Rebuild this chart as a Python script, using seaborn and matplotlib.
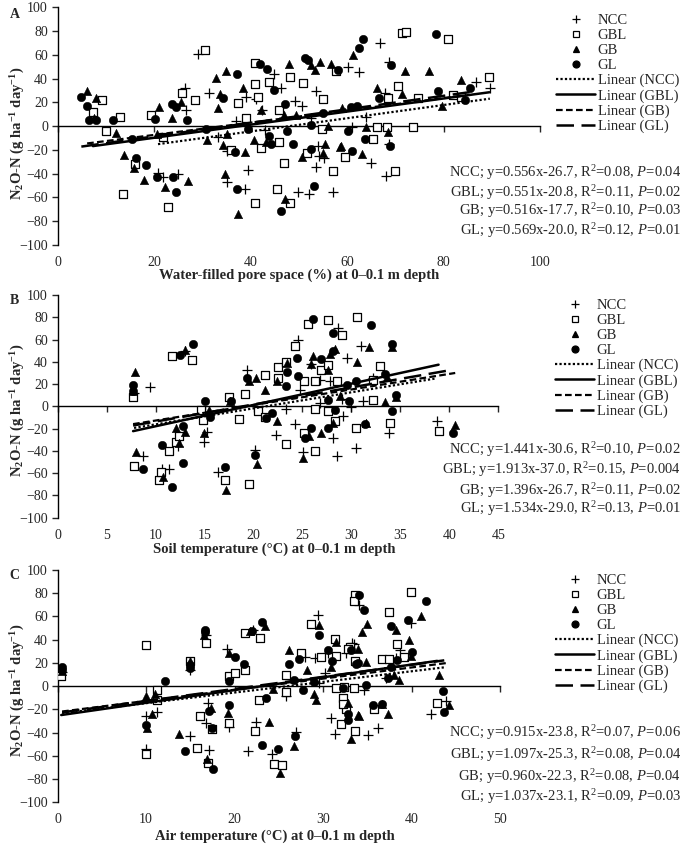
import numpy as np
import seaborn as sns
import matplotlib.pyplot as plt
from matplotlib.lines import Line2D

treatments = ["NCC", "GBL", "GB", "GL"]

# A: water-filled pore space (%)
wfps_ncc_x = [29.1, 26.3, 31.3, 26.5, 33.3, 35.0, 36.9, 39.0, 41.2, 38.8, 39.5, 42.4, 43.0, 44.8, 46.4, 49.2, 50.6,
              49.9, 52.1, 53.5, 54.0, 54.2, 55.3, 57.1, 52.5, 61.0, 60.2, 62.5, 20.8, 21.9, 25.0, 35.0, 53.5, 66.8,
              68.7, 67.8, 64.0, 65.0, 68.7, 68.0, 86.8, 89.6]
wfps_ncc_y = [60.6, 32.5, 27.5, 13.5, -9, -47, 4.5, 24.7, 22.7, -53, -36.5, 14, -3.4, 43.8, 32.5, 21.3, 16.8,
              -55, -57, -34, -16.8, -25, -26.6, -55, 6.5, -0.6, 50, 45.7, -39, -42.6, -40, -21, 29.2, 70,
              54, 27.5, 7.3, -31, -15, -42, 37, 31.7]
wfps_gbl_x = [30.5, 40.9, 7.3, 9.2, 10.1, 12.9, 13.6, 16.0, 19.4, 21.9, 22.9, 25.8, 28.4, 36.0, 37.3, 39.1, 40.9,
              40.9, 41.6, 42.2, 43.8, 45.4, 45.9, 45.9, 48.1, 46.9, 48.1, 50.9, 51.6, 55.0, 54.7, 57.1, 57.8, 59.5,
              71.3, 72.3, 80.9, 89.5, 70.6, 68.5, 74.7, 82.0, 83.7, 66.1, 68.2, 73.7, 65.3, 69.9]
wfps_gbl_y = [64, 53.3, 12, 21.9, -4, 7.3, -57.5, -32, 9.3, -9.5, -68, 27.5, 21.9, -20, 19.6, 6.5, 35.3,
              -65, 24.7, -18.8, 37.3, -53.3, -13.2, 14, 41.5, -30.6, -65, 36.5, -22.4, 23, -2.8, -37.6, 46.3, -25.8,
              78, 79.4, 73, 41, 33.7, 24, 24, 26, 24.7, -0.6, -0.6, -0.6, -11, -37.6]
wfps_gb_x = [6.1, 7.9, 7.5, 12.0, 13.7, 15.8, 17.8, 21.0, 20.5, 22.2, 23.6, 27.0, 25.6, 31.0, 32.9, 33.3, 34.9,
             33.6, 34.6, 34.3, 35.0, 37.4, 38.4, 38.8, 40.7, 42.2, 43.2, 46.9, 47.1, 48.0, 49.5, 50.6, 52.6, 53.3,
             55.0, 55.4, 56.1, 54.4, 56.6, 58.5, 58.9, 61.2, 66.1, 71.3, 72.0, 77.0, 79.6, 83.7, 64.0, 68.5, 58.8,
             63.0]
wfps_gb_y = [29.5, 24, 6.5, -6, -24.5, -35.6, -45.4, 15.7, -6.7, -51.6, 6.5, -46, 20.5, -11.8, 40.7, 14.9, 46.6,
             27, -40.4, -16, -6.2, -73.5, 31.7, -21.6, -11.8, 14, -13.2, 9.3, -61.7, 52.7, 9.3, -25.8, 51.3, 47,
             -23, -14.6, 0, 54, 52.7, -17.4, 14.9, 59.7, 31.7, 27, 46.6, 46.6, 16.8, 38.7, -1, -4.8, -16.8,
             -23.6]
wfps_gl_x = [4.9, 6.1, 6.5, 8.0, 11.5, 16.3, 18.4, 15.5, 20.1, 20.5, 23.6, 24.5, 24.6, 23.9, 26.8, 30.8, 34.3,
             37.2, 36.7, 37.2, 39.5, 41.9, 43.3, 43.8, 44.3, 44.8, 47.1, 47.6, 46.4, 48.8, 51.2, 51.9, 52.6, 53.1,
             52.6, 55.0, 58.2, 60.1, 60.9, 61.0, 62.5, 63.3, 69.2, 78.4, 66.6, 78.9, 85.4, 84.4, 62.0, 63.7, 68.8]
wfps_gl_y = [24.7, 16.8, 5, 5, 5, -27, -32.8, -11.2, 5.6, -42.6, 18.5, 15.7, -55.8, -43, 5, -2.8, 24,
             43.8, -21.6, -52.5, -2.8, 52.7, 48.5, -8.4, -15, 30.3, 18.5, -4, -71, -15, 57, 55.5, -19.6, -50,
             0.8, 10.7, 47.5, -4.4, 16.5, -21.2, 65.4, 73, 51.3, 77.4, 23.3, 29.7, 31.7, 21.9, 16.8, -10.4, -16.8]

# B: soil temperature (°C)
soil_ncc_x = [7.8, 9.4, 8.7, 10.7, 11.4, 12.3, 14.9, 15.2, 13.0, 16.4, 19.3, 20.1, 22.3, 23.3, 24.5, 24.2, 25.1,
              24.7, 25.9, 26.8, 26.8, 27.8, 28.5, 28.1, 29.1, 28.6, 29.5, 30.0, 30.5, 31.0, 32.2, 29.0, 31.2,
              33.8, 38.7]
soil_ncc_y = [12, 17.2, -44.3, -56.3, -56.3, -36, -31.6, -22.6, 49.7, -58.7, 32.2, -39.2, -25.6, -2.4, 59.3, -16,
              -40.7, 15, 37.7, 3, 24, 23.2, -44.3, -28, -9, 70.8, 43, -1, -37.6, 54, 25.6, 7, 4.5, -24, -13.6]
soil_gbl_x = [7.7, 7.8, 10.3, 10.6, 11.4, 11.7, 12.1, 12.4, 13.7, 14.6, 14.8, 17.5, 17.1, 18.5, 19.1, 19.5, 20.5,
              21.2, 21.2, 22.5, 22.5, 23.3, 23.3, 24.2, 25.2, 25.2, 25.6, 26.3, 26.3, 26.3, 27.6, 26.9, 27.6, 27.6,
              28.3, 28.5, 29.0, 30.6, 30.5, 32.9, 32.2, 32.2, 33.9, 38.9]
soil_gbl_y = [8.1, -53.3, -66.3, -59.3, -40, 45.2, -31.6, -27, 41.6, -3, -12, 8.1, -66.3, -11.1, 11.1, -69.3, -4.5,
              28.6, -10, 35.2, 25.6, -34, 39.8, 54.2, 22.6, -24, 73.8, 23.2, -2.4, -40, 77.4, 33, 36.7, -4.5,
              -13.6, 22.6, 64.2, 80.4, -19.6, 36, 23.8, 6, -15, -22]
soil_gb_x = [7.9, 7.7, 8.0, 10.8, 12.1, 12.4, 13.0, 13.0, 14.9, 15.5, 17.2, 17.6, 19.5, 20.3, 20.4, 21.2, 22.4,
             22.4, 23.4, 25.1, 25.7, 25.9, 27.6, 27.8, 28.3, 26.9, 28.1, 28.8, 30.6, 31.8, 34.1, 33.6, 33.4, 34.6,
             31.5, 40.6, 26.1]
soil_gb_y = [31, 14.2, -41.3, -63.3, -19.6, -33, 51, -23.2, -24, -3, -75.3, 4.5, 23.2, 25.6, -52.1, 15, 22.6,
             -13.6, 39.2, -46.7, -27, 37.7, 32.2, 47.3, 51.2, -24, -15, 9, 40, 53.6, 53.3, 26, 3.9, 8,
             -15, -17, 45]
soil_gl_x = [7.7, 7.7, 8.7, 10.7, 11.7, 12.5, 12.8, 12.8, 13.8, 15.0, 15.6, 17.7, 17.1, 19.3, 20.1, 21.3, 21.9,
             23.3, 23.4, 24.4, 24.5, 25.9, 25.3, 26.1, 26.9, 27.6, 28.1, 27.6, 28.3, 29.5, 29.8, 30.5, 32.0, 34.1,
             28.1, 33.4, 34.6, 34.1, 31.4, 40.4]
soil_gl_y = [19, 13.5, -56.3, -34.6, -72.3, 46, -51.2, -18, 56.3, 5.1, -10, 5.1, -54.2, 25.6, -43.7, -10.5, -6,
             18, 31, 43.7, 27, -19.6, -28.6, 78.3, 42.2, -19.6, 66.3, 6, -3, 19, 4.5, 23.2, 73.2, 55.7,
             50, 29.2, 10, -4.5, -16, -24]

# C: air temperature (°C)
air_ncc_x = [0.5, 10.0, 10.0, 11.2, 14.9, 15.0, 17.0, 17.1, 16.8, 16.8, 19.1, 19.4, 21.5, 22.1, 22.4, 24.2, 25.8,
             26.9, 29.4, 27.9, 29.1, 29.5, 30.9, 31.3, 30.5, 32.6, 33.3, 30.2, 34.1, 33.5, 38.7, 38.2, 37.1, 34.6,
             35.1, 36.2, 42.2, 43.9, 39.9]
air_ncc_y = [12, -54.4, -25.8, -22, 14.3, -43, -14.3, -55.3, -31.5, 44.4, 32.4, -35.2, -55.9, 48.7, -30.7, -58.2,
             -8.6, -39.5, 61, 25, 24.4, 2.9, -27.8, -41.5, 28.7, 28.7, 37.2, 11.5, 70.2, 36.4, 31.5, 24.4, 7.2,
             -3.7, -42.1, -36.4, -23.8, -12.9, 54.4]
air_gbl_x = [0.4, 10.0, 10.0, 11.2, 11.2, 14.9, 15.7, 16.1, 16.8, 17.0, 17.4, 19.4, 19.4, 20.0, 21.2, 21.2, 22.3,
             22.8, 22.9, 24.4, 25.3, 25.8, 25.8, 27.5, 28.6, 29.8, 31.3, 31.5, 31.5, 32.4, 33.5, 33.0, 32.0, 32.2,
             33.6, 33.5, 33.6, 33.6, 32.6, 39.9, 37.5, 38.4, 39.1, 36.7, 37.5, 32.8, 35.8, 42.9, 32.2]
air_gbl_y = [8.6, -58.2, 35.8, -2.9, -12.3, 22, -53, -25.8, 37.2, -65.9, -37.2, 8.6, -31.5, 11.5, 45.8, 14.3,
             -38.7, -11.5, 41.5, -66.8, -67.9, 10, -4.9, 28.7, 53.6, 24.9, 41, 25.8, -1.4, -0.9, -2, 33.5, -33,
             -10, 78.2, 73.6, 22, -38.7, -20, 81, 63.9, 36.4, 24.9, 23.8, 23.8, 32.4, -19.5, -14.3, -15.2]
air_gb_x = [0.5, 10.0, 10.1, 10.7, 13.7, 14.9, 16.5, 16.9, 17.3, 19.2, 19.4, 21.7, 23.4, 24.3, 23.9, 25.1, 26.1,
            26.7, 28.2, 29.0, 29.2, 29.5, 31.5, 30.9, 32.8, 33.2, 33.9, 34.0, 35.0, 34.4, 38.2, 39.7, 41.1, 34.8,
            38.0, 38.6, 43.1, 34.1, 37.3, 36.7, 44.2, 39.9, 11.0]
air_gb_y = [13, -8.6, -35.8, -24.4, -41, 21.5, 43.8, -63, -18.6, -22.9, 28.7, 47.3, 51.6, -2.3, -30.7, -74.5, 31.5,
            -51.6, 14.3, -6.6, -11.5, 53, 38.1, 16.3, -14.3, -45.8, 32.4, -24.9, 53.9, 46.7, 48.1, 40.1, 60.2, 21,
            10, 4.9, 10, -25.8, -23.8, -15.2, -16.4, 25.8, -7]
air_gl_x = [0.5, 0.5, 10.0, 12.1, 14.4, 14.9, 14.9, 16.7, 16.7, 17.1, 17.4, 17.6, 19.4, 19.4, 20.0, 21.1, 22.0,
            23.1, 23.1, 23.5, 24.9, 26.1, 26.7, 26.8, 27.3, 27.7, 29.0, 29.5, 30.6, 31.0, 32.2, 32.8, 32.8, 33.1,
            34.0, 34.1, 34.6, 37.7, 39.6, 41.6, 33.7, 37.7, 37.3, 38.4, 40.0, 34.9, 35.6, 36.7, 43.5, 43.7]
air_gl_y = [16.3, 14.3, -33.5, 4.3, -55.9, 18.6, 15.8, 48.7, 46.7, -21.5, -35.8, -71.6, 4.3, -16.3, 24.9, 19.2,
            47.9, 55.3, -50.7, -10.6, -54.4, 19.2, 5.7, -43, 23.8, -3.7, 3.7, 43.8, 31.5, 22, -2, -23.8, -29.5,
            31.5, 20, 78.2, 65.9, 51.6, 57.3, 73, 19.2, 16.3, 7.2, 22.9, 29.5, 0.9, -16.3, -15.2, -4.3, -22]

# reported regressions (slope, intercept, R2, P) per treatment
wfps_slope = [0.556, 0.551, 0.516, 0.569]
wfps_icpt = [-26.7, -20.8, -17.7, -20.0]
wfps_r2 = [0.08, 0.11, 0.10, 0.12]
wfps_p = ["0.04", "0.02", "0.03", "0.01"]

soil_slope = [1.441, 1.913, 1.396, 1.534]
soil_icpt = [-30.6, -37.0, -26.7, -29.0]
soil_r2 = [0.10, 0.15, 0.11, 0.13]
soil_p = ["0.02", "0.004", "0.02", "0.01"]

air_slope = [0.915, 1.097, 0.960, 1.037]
air_icpt = [-23.8, -25.3, -22.3, -23.1]
air_r2 = [0.07, 0.08, 0.08, 0.09]
air_p = ["0.06", "0.04", "0.04", "0.03"]

sns.set_style("ticks")
plt.rcParams["font.family"] = ["Liberation Serif", "DejaVu Serif"]
plt.rcParams["mathtext.fontset"] = "custom"
plt.rcParams["mathtext.rm"] = "Liberation Serif"
plt.rcParams["mathtext.it"] = "Liberation Serif:italic"
plt.rcParams["mathtext.bf"] = "Liberation Serif:bold"

W, H = 685, 847
fig = plt.figure(figsize=(W / 100, H / 100), dpi=100)


def px(x, y):
    return x / W, 1 - y / H


marker_kws = {
    "NCC": dict(marker="+", s=50, color="black", linewidth=0.9),
    "GBL": dict(marker="s", s=32, color="white", edgecolor="black", linewidth=0.9),
    "GB": dict(marker="^", s=36, color="black", edgecolor="black", linewidth=0.4),
    "GL": dict(marker="o", s=36, color="black", edgecolor="black", linewidth=0.4),
}
line_kws = {
    "NCC": dict(linestyle=(0, (1, 1)), linewidth=1.6),
    "GBL": dict(linestyle="-", linewidth=1.8),
    "GB": dict(linestyle=(0, (3, 1.5)), linewidth=1.6),
    "GL": dict(linestyle=(0, (7, 3)), linewidth=1.8),
}
FS = 10.5


def draw_panel(rect, xs, ys, xmax, xstep, slopes, icpts, r2s, ps, letter, xlabel, lay):
    left, top, right, bottom = rect
    ax = fig.add_axes([left / W, 1 - bottom / H, (right - left) / W, (bottom - top) / H])
    for t, x, y in zip(treatments, xs, ys):
        sns.scatterplot(x=x, y=y, ax=ax, legend=False, zorder=3, **marker_kws[t])
    for t, x, s, b in zip(treatments, xs, slopes, icpts):
        xx = np.array([min(x), max(x)])
        ax.plot(xx, s * xx + b, color="black", zorder=4, **line_kws[t])

    ax.set_xlim(0, xmax)
    ax.set_ylim(-100, 100)
    ticks = np.arange(0, xmax + 0.1, xstep)
    ax.set_xticks(ticks)
    ax.set_yticks(np.arange(-100, 101, 20))
    sns.despine(ax=ax)
    ax.spines["bottom"].set_position(("data", 0))
    for sp in ["left", "bottom"]:
        ax.spines[sp].set_linewidth(1.0)
        ax.spines[sp].set_color("black")
    ax.tick_params(axis="x", direction="out", length=4, width=1, labelbottom=False)
    ax.tick_params(axis="y", direction="out", length=4, width=1, pad=3, labelsize=10)
    ax.set_xlabel("")
    ax.set_ylabel("")

    sec = ax.secondary_xaxis("bottom")
    sec.set_xticks(ticks)
    sec.set_xticklabels([f"{v:g}" for v in ticks])
    sec.tick_params(length=0, pad=8, labelsize=10)
    sec.spines["bottom"].set_visible(False)

    fig.text(*px(*lay["xlabel"]), xlabel, ha="center", va="center", fontsize=FS, fontweight="bold")
    fig.text(*px(*lay["ylabel"]), r"N$_\mathbf{2}$O-N (g ha$^\mathbf{-1}$ day$^\mathbf{-1}$)",
             rotation=90, ha="center", va="center", fontsize=FS, fontweight="bold")
    fig.text(*px(*lay["letter"]), letter, ha="center", va="center", fontsize=10, fontweight="bold")

    handles = []
    for t in treatments:
        mk = marker_kws[t]
        handles.append(Line2D([], [], linestyle="none", marker=mk["marker"],
                              markersize=6 if t == "NCC" else 5,
                              markerfacecolor=mk["color"], markeredgecolor="black",
                              markeredgewidth=0.9))
    for t in treatments:
        handles.append(Line2D([], [], color="black", **line_kws[t]))
    labels = treatments + [f"Linear ({t})" for t in treatments]
    ax.legend(handles, labels, loc="upper left", bbox_to_anchor=px(*lay["legend"]),
              bbox_transform=fig.transFigure, frameon=False, fontsize=FS,
              handlelength=2.7, handletextpad=0.15, labelspacing=0.12,
              borderpad=0, borderaxespad=0)

    for t, s, b, r2, p, yy in zip(treatments, slopes, icpts, r2s, ps, lay["eq"]):
        txt = f"{t}; y={s:.3f}x{b:+.1f}, R$^2$={r2:.2f}, $P$={p}"
        fig.text(*px(681, yy), txt, ha="right", va="center", fontsize=FS)
    return ax


draw_panel((57.7, 7.3, 540, 245), [wfps_ncc_x, wfps_gbl_x, wfps_gb_x, wfps_gl_x],
           [wfps_ncc_y, wfps_gbl_y, wfps_gb_y, wfps_gl_y], 100, 20,
           wfps_slope, wfps_icpt, wfps_r2, wfps_p, "A",
           "Water-filled pore space (%) at 0\u20130.1 m depth",
           dict(xlabel=(299, 275), ylabel=(18, 133), letter=(15, 15), legend=(556, 14),
                eq=[173, 193, 211, 231]))

draw_panel((57.7, 295, 498.3, 517.7), [soil_ncc_x, soil_gbl_x, soil_gb_x, soil_gl_x],
           [soil_ncc_y, soil_gbl_y, soil_gb_y, soil_gl_y], 45, 5,
           soil_slope, soil_icpt, soil_r2, soil_p, "B",
           "Soil temperature (\u00b0C) at 0\u20130.1 m depth",
           dict(xlabel=(274, 549), ylabel=(18, 410), letter=(14, 300), legend=(555, 299),
                eq=[450, 470, 491, 509]))

draw_panel((57.7, 570, 500, 802.3), [air_ncc_x, air_gbl_x, air_gb_x, air_gl_x],
           [air_ncc_y, air_gbl_y, air_gb_y, air_gl_y], 50, 10,
           air_slope, air_icpt, air_r2, air_p, "C",
           "Air temperature (\u00b0C) at 0\u20130.1 m depth",
           dict(xlabel=(275, 836), ylabel=(18, 690), letter=(14, 575), legend=(555, 574),
                eq=[733, 755, 777, 797]))

fig.savefig("out.png", dpi=100)
